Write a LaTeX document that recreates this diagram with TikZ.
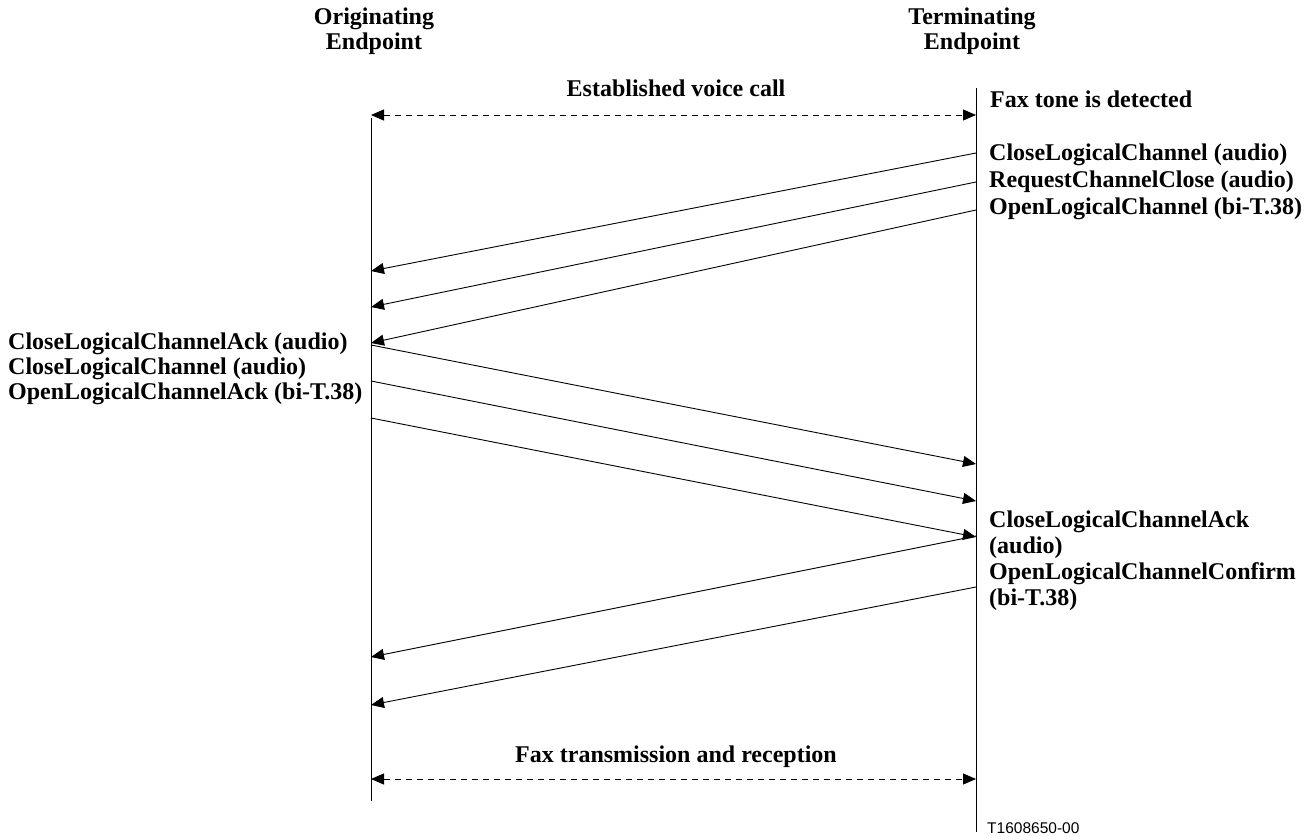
\documentclass[tikz,border=0pt]{standalone}
\usepackage{fontspec}
\setmainfont{Liberation Serif}
\setsansfont{Liberation Sans}
\usetikzlibrary{arrows.meta, positioning}
\tikzset{
  lifeline/.style={line width=0.9pt},
  msg/.style={line width=0.9pt,-{Triangle[length=13pt,width=11pt]}},
  span/.style={line width=0.9pt,dash pattern=on 6pt off 5pt,{Triangle[length=13pt,width=11pt]}-{Triangle[length=13pt,width=11pt]}},
  lbl/.style={font=\fontsize{24}{25}\selectfont\bfseries, inner sep=0pt},
  lblr/.style={lbl, anchor=west},
  tag/.style={font=\sffamily\fontsize{15.5}{17}\selectfont, inner sep=0pt, anchor=west}
}

\begin{document}
\begin{tikzpicture}[x=1pt, y=-1pt]

    \useasboundingbox (0,0) rectangle (1314,840);

    % ==========================================
    % 1. Endpoints y lineas de vida
    % ==========================================
    \node[lbl, align=center] (orig) at (374, 31) {Originating\\Endpoint};
    \node[lbl, align=center] (term) at (972, 31) {Terminating\\Endpoint};

    \coordinate (otop) at (371, 118);
    \coordinate (obot) at (371, 801);
    \coordinate (ttop) at (976, 88);
    \coordinate (tbot) at (976, 832);
    \draw[lifeline] (otop) -- (obot);
    \draw[lifeline] (ttop) -- (tbot);

    % ==========================================
    % 2. Llamada de voz establecida
    % ==========================================
    \coordinate (v1) at (371, 115);
    \coordinate (v2) at (976, 115);
    \draw[span] (v1) -- (v2);
    \node[lbl] (voice) at (676, 88) {Established voice call};
    \node[lblr] (tone) at (990, 99) {Fax tone is detected};

    % ==========================================
    % 3. Mensajes (Terminating -> Originating)
    % ==========================================
    \foreach \n/\ya/\yb in {a/153/271, b/182/307, c/210/343} {
        \coordinate (t\n) at (976, \ya);
        \coordinate (o\n) at (371, \yb);
        \draw[msg] (t\n) -- (o\n);
    }
    \node[lblr] (m1) at (989, 155) {CloseLogicalChannel (audio)};
    \node[lblr] (m2) at (989, 182) {RequestChannelClose (audio)};
    \node[lblr] (m3) at (989, 209) {OpenLogicalChannel (bi-T.38)};

    % ==========================================
    % 4. Mensajes (Originating -> Terminating)
    % ==========================================
    \foreach \n/\ya/\yb in {d/345/464, e/381/501, f/418/537} {
        \coordinate (o\n) at (371, \ya);
        \coordinate (t\n) at (976, \yb);
        \draw[msg] (o\n) -- (t\n);
    }
    \node[lblr] (m4) at (8, 344) {CloseLogicalChannelAck (audio)};
    \node[lblr] (m5) at (8, 369) {CloseLogicalChannel (audio)};
    \node[lblr] (m6) at (8, 394) {OpenLogicalChannelAck (bi-T.38)};

    % ==========================================
    % 5. Confirmaciones (Terminating -> Originating)
    % ==========================================
    \foreach \n/\ya/\yb in {g/536/657, h/587/705} {
        \coordinate (t\n) at (976, \ya);
        \coordinate (o\n) at (371, \yb);
        \draw[msg] (t\n) -- (o\n);
    }
    \node[lblr] (m7) at (989, 522) {CloseLogicalChannelAck};
    \node[lblr] (m8) at (989, 548) {(audio)};
    \node[lblr] (m9) at (989, 574) {OpenLogicalChannelConfirm};
    \node[lblr] (m10) at (989, 600) {(bi-T.38)};

    % ==========================================
    % 6. Transmision de fax
    % ==========================================
    \coordinate (f1) at (371, 779);
    \coordinate (f2) at (976, 779);
    \draw[span] (f1) -- (f2);
    \node[lbl] (fax) at (676, 757) {Fax transmission and reception};

    \node[tag] (ref) at (987, 828) {T1608650-00};

\end{tikzpicture}
\end{document}
